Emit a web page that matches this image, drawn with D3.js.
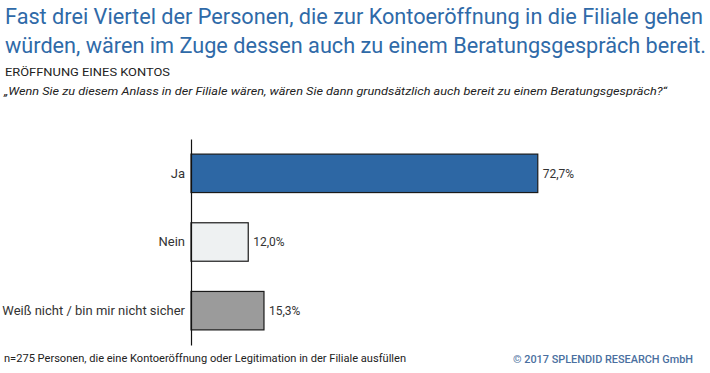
<!DOCTYPE html>
<html>
<head>
<meta charset="utf-8">
<script src="https://cdn.jsdelivr.net/npm/d3@7"></script>
<style>
  body { margin: 0; background: #fff; }
  svg { display: block; font-family: Roboto, "Noto Sans", sans-serif; }
</style>
</head>
<body>
<div id="chart"></div>
<script>
// Chart data
const categories = ["Ja", "Nein", "Weiß nicht / bin mir nicht sicher"];
const values = [72.7, 12.0, 15.3];
const barColors = ["#2d67a4", "#eef1f2", "#9b9b9b"];

const titleLines = [
  "Fast drei Viertel der Personen, die zur Kontoeröffnung in die Filiale gehen",
  "würden, wären im Zuge dessen auch zu einem Beratungsgespräch bereit."
];
const subtitle = "ERÖFFNUNG EINES KONTOS";
const question = "„Wenn Sie zu diesem Anlass in der Filiale wären, wären Sie dann grundsätzlich auch bereit zu einem Beratungsgespräch?“";
const footnote = "n=275 Personen, die eine Kontoeröffnung oder Legitimation in der Filiale ausfüllen";
const copyright = "© 2017 SPLENDID RESEARCH GmbH";

const width = 710, height = 373;
const svg = d3.select("#chart").append("svg")
  .attr("width", width)
  .attr("height", height);

// Header - text widths fitted to the reference
const titleWidths = [698, 701];
svg.selectAll("text.title")
  .data(titleLines)
  .enter().append("text")
  .attr("class", "title")
  .attr("x", 5)
  .attr("y", (d, i) => 24 + i * 29)
  .attr("fill", "#2f6aa8")
  .attr("font-size", 21.5)
  .attr("textLength", (d, i) => titleWidths[i])
  .attr("lengthAdjust", "spacingAndGlyphs")
  .text(d => d);

svg.append("text")
  .attr("x", 5).attr("y", 76)
  .attr("fill", "#222")
  .attr("font-size", 11.5)
  .attr("textLength", 165)
  .attr("lengthAdjust", "spacingAndGlyphs")
  .text(subtitle);

svg.append("text")
  .attr("x", 4).attr("y", 95)
  .attr("fill", "#222")
  .attr("font-size", 11)
  .attr("font-style", "italic")
  .attr("textLength", 663)
  .attr("lengthAdjust", "spacingAndGlyphs")
  .text(question);

// Plot area
const plot = { left: 191, top: 139, bottom: 345 };
const x = d3.scaleLinear().domain([0, 100]).range([plot.left, plot.left + 477]);
const y = d3.scaleBand()
  .domain(categories)
  .range([plot.top, plot.bottom])
  .paddingInner(0.44)
  .paddingOuter(0.22);

const g = svg.append("g");

g.selectAll("rect.bar")
  .data(values)
  .enter().append("rect")
  .attr("class", "bar")
  .attr("x", x(0))
  .attr("y", (d, i) => y(categories[i]))
  .attr("width", d => x(d) - x(0))
  .attr("height", y.bandwidth())
  .attr("fill", (d, i) => barColors[i])
  .attr("stroke", "#1a1a1a")
  .attr("stroke-width", 1.2);

g.selectAll("text.value")
  .data(values)
  .enter().append("text")
  .attr("class", "value")
  .attr("x", d => x(d) + 5)
  .attr("y", (d, i) => y(categories[i]) + y.bandwidth() / 2)
  .attr("dy", "0.35em")
  .attr("fill", "#333")
  .attr("font-size", 12)
  .text(d => d3.format(".1f")(d).replace(".", ",") + "%");

// Category axis
const axis = d3.axisLeft(y).tickSize(0).tickPadding(6);
const ax = svg.append("g")
  .attr("transform", `translate(${plot.left},0)`)
  .call(axis);
ax.select(".domain").attr("stroke", "#111").attr("stroke-width", 1.2);
ax.selectAll("text")
  .attr("font-family", "Roboto, sans-serif")
  .attr("font-size", 13)
  .attr("fill", "#333");

// Footer
svg.append("text")
  .attr("x", 4).attr("y", 362)
  .attr("fill", "#222")
  .attr("font-size", 10.5)
  .attr("textLength", 402)
  .attr("lengthAdjust", "spacingAndGlyphs")
  .text(footnote);

svg.append("text")
  .attr("x", 693).attr("y", 363)
  .attr("text-anchor", "end")
  .attr("fill", "#4a6fa0")
  .attr("font-size", 10.5)
  .attr("font-weight", 500)
  .attr("textLength", 180)
  .attr("lengthAdjust", "spacingAndGlyphs")
  .text(copyright);
</script>
</body>
</html>
